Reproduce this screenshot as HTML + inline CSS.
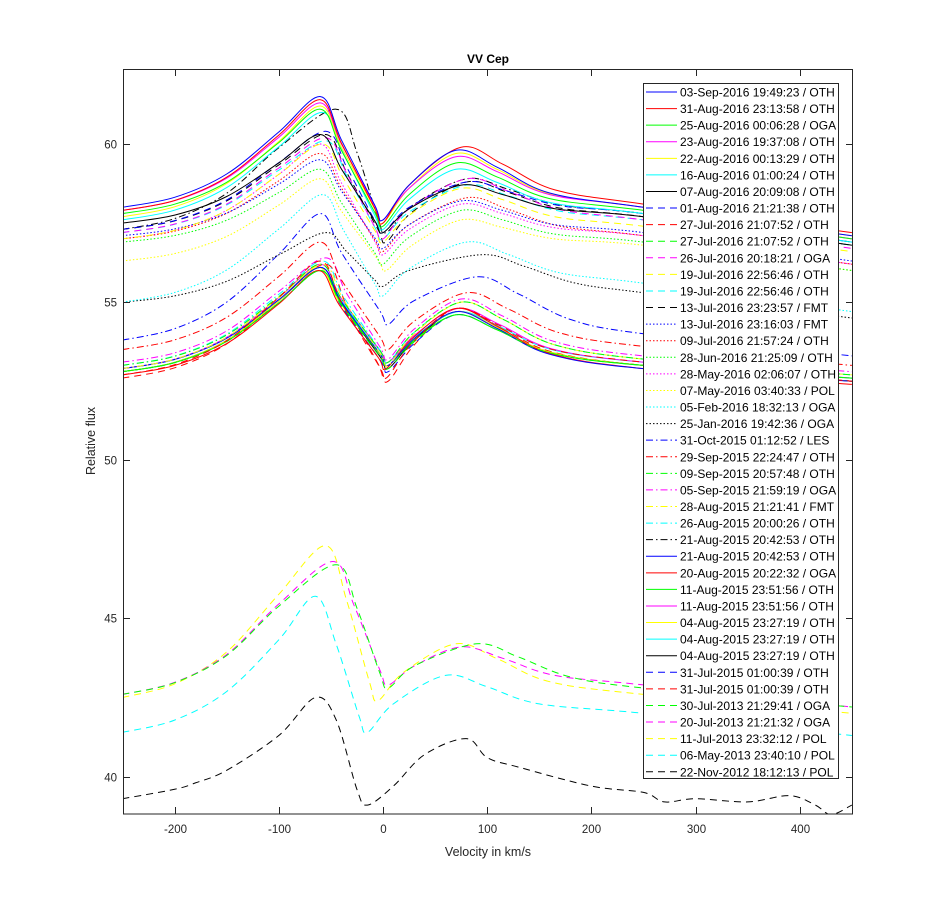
<!DOCTYPE html>
<html><head><meta charset="utf-8"><style>
body{margin:0;background:#fff;}
svg text{font-family:"Liberation Sans",Arial,sans-serif;}
</style></head><body>
<svg id="s" width="944" height="916" xmlns="http://www.w3.org/2000/svg">
<rect width="944" height="916" fill="#fff"/>
<defs><clipPath id="c"><rect x="123" y="69" width="730" height="745"/></clipPath></defs>
<rect x="123" y="69" width="730" height="745" fill="#fff"/>
<g id="curves" clip-path="url(#c)" fill="none" stroke-width="1"></g>
<rect x="123.5" y="69.5" width="729" height="744.5" fill="none" stroke="#262626" stroke-width="1"/>
<g id="ticks" stroke="#262626" stroke-width="1"></g>
<g id="labels" font-size="11.5" fill="#262626"></g>
<text x="488" y="63" font-size="12" font-weight="bold" text-anchor="middle" fill="#000">VV Cep</text>
<text x="488" y="856" font-size="12.5" text-anchor="middle" fill="#262626">Velocity in km/s</text>
<text x="0" y="0" font-size="12.5" text-anchor="middle" fill="#262626" transform="translate(95,441) rotate(-90)">Relative flux</text>
<rect x="643.5" y="83.5" width="195" height="695" fill="#fff" stroke="#262626" stroke-width="1"/>
<g id="legend" font-size="12" fill="#000"></g>
</svg>
<script>
const X=v=>383+v*1.042, Y=y=>144+(60-y)*31.63;
const cols=['#0000ff','#ff0000','#00ff00','#ff00ff','#ffff00','#00ffff','#000000'];
const dash={s:'',d:'7,5',o:'1.5,2',dd:'7,3,1.5,3'};
const styles=['s','d','o','dd','s','d'];
const names=["03-Sep-2016 19:49:23 / OTH","31-Aug-2016 23:13:58 / OTH","25-Aug-2016 00:06:28 / OGA","23-Aug-2016 19:37:08 / OTH","22-Aug-2016 00:13:29 / OTH","16-Aug-2016 01:00:24 / OTH","07-Aug-2016 20:09:08 / OTH","01-Aug-2016 21:21:38 / OTH","27-Jul-2016 21:07:52 / OTH","27-Jul-2016 21:07:52 / OTH","26-Jul-2016 20:18:21 / OGA","19-Jul-2016 22:56:46 / OTH","19-Jul-2016 22:56:46 / OTH","13-Jul-2016 23:23:57 / FMT","13-Jul-2016 23:16:03 / FMT","09-Jul-2016 21:57:24 / OTH","28-Jun-2016 21:25:09 / OTH","28-May-2016 02:06:07 / OTH","07-May-2016 03:40:33 / POL","05-Feb-2016 18:32:13 / OGA","25-Jan-2016 19:42:36 / OGA","31-Oct-2015 01:12:52 / LES","29-Sep-2015 22:24:47 / OTH","09-Sep-2015 20:57:48 / OTH","05-Sep-2015 21:59:19 / OGA","28-Aug-2015 21:21:41 / FMT","26-Aug-2015 20:00:26 / OTH","21-Aug-2015 20:42:53 / OTH","21-Aug-2015 20:42:53 / OTH","20-Aug-2015 20:22:32 / OGA","11-Aug-2015 23:51:56 / OTH","11-Aug-2015 23:51:56 / OTH","04-Aug-2015 23:27:19 / OTH","04-Aug-2015 23:27:19 / OTH","04-Aug-2015 23:27:19 / OTH","31-Jul-2015 01:00:39 / OTH","31-Jul-2015 01:00:39 / OTH","30-Jul-2013 21:29:41 / OGA","20-Jul-2013 21:21:32 / OGA","11-Jul-2013 23:32:12 / POL","06-May-2013 23:40:10 / POL","22-Nov-2012 18:12:13 / POL"];
const p=[
[58,61.5,-60,57.6,0,59.8,70,58,57.1],[57.9,61.4,-60,57.5,0,59.9,75,58.1,57.2],[57.8,61.1,-60,57.4,0,59.4,70,57.9,57],[57.9,61.3,-60,57.6,0,59.6,70,58,57],[57.7,61.2,-60,57.5,0,59.7,70,58,57.1],[57.6,61,-58,57.3,0,59.2,70,57.8,56.9],[57.5,60.3,-60,57.2,0,58.7,75,57.7,56.8],
[57.3,60.4,-55,57.2,0,58.8,80,57.8,56.9],[52.7,56.3,-60,52.6,3,54.8,70,53.1,52.5],[52.8,56,-60,52.9,5,54.6,70,53,52.6],[57.2,60.2,-55,57,0,58.9,80,57.6,56.7],[57,60,-58,56.9,0,58.6,75,57.4,56.6],[57.2,60.1,-55,57,0,58.7,80,57.6,56.8],[57.3,60.3,-55,56.9,3,58.8,80,57.7,56.8],
[57.1,59.5,-60,56.7,0,58.2,75,57.2,56.3],[57,59.7,-60,56.6,0,58.3,80,57.1,56.2],[56.9,59.2,-60,56.2,0,57.9,75,56.9,56],[57,60,-60,56.5,0,58.1,75,57.1,56.2],[56.3,58.9,-60,56,3,57.6,75,56.8,56],[55,58.4,-58,55.2,0,56.9,80,55.6,54.7],[55,57.2,-55,55.5,0,56.5,95,55.3,54.5],
[53.8,57.8,-60,54.3,5,55.8,90,54,53.3],[53.5,56.9,-60,53.5,5,55.3,80,53.6,53],[53,56.2,-60,53.1,5,55,75,53.2,52.7],[53.1,56.4,-55,53.2,5,55.1,75,53.3,52.8],[52.9,56.2,-58,53,5,55,75,53.2,52.7],[53,56.3,-58,53.1,5,55,75,53.2,52.7],[57.3,61.1,-45,57.2,3,58.9,80,57.8,56.9],
[52.9,56.1,-60,53,5,54.7,70,52.9,52.5],[52.7,56,-62,52.9,3,54.8,70,52.9,52.4],[52.8,56,-60,53,5,54.6,70,53,52.6],[52.9,56.2,-60,53.1,5,54.8,72,53.1,52.6],[52.8,56.1,-62,53,5,54.7,70,53,52.5],[52.9,56.1,-60,53.1,5,54.7,72,53.1,52.6],[52.8,56.1,-60,52.9,5,54.7,70,53,52.5],
[52.8,56,-60,52.8,5,54.6,70,53,52.5],[52.6,56.2,-55,52.5,5,54.8,70,53,52.5],[42.6,46.7,-45,42.8,5,44.2,90,42.8,42.2],[42.6,46.8,-48,42.9,5,44.1,75,42.9,42.2],[42.5,47.3,-55,42.4,-5,44.2,70,42.6,42],[41.4,45.7,-65,41.4,-15,43.2,60,42,41.3],[39.3,42.5,-65,39.1,-15,41.2,80,39.5,39.1]
];
function pts(a){const[b,P,vp,M,vm,Q,vq,R,E]=a;let r=[[-250,b],[-200,b+.09*(P-b)],[-150,b+.3*(P-b)],[-100,b+.68*(P-b)],[vp,P],[vp+20,P-.35*(P-M)],[vm-8,M+.12*(P-M)],[vm,M],[vm+25,M+.5*(Q-M)],[vq,Q],[vq+40,Q-.3*(Q-R)],[vq+90,Q-.75*(Q-R)],[250,R],[450,E]];return r.filter((q,i)=>i==0||q[0]>r[i-1][0]);}
function path(P){P=P.map(q=>[X(q[0]),Y(q[1])]);let d='M'+P[0][0].toFixed(1)+','+P[0][1].toFixed(1);for(let i=0;i<P.length-1;i++){const p0=P[Math.max(0,i-1)],p1=P[i],p2=P[i+1],p3=P[Math.min(P.length-1,i+2)];const c1=[p1[0]+(p2[0]-p0[0])/6,p1[1]+(p2[1]-p0[1])/6],c2=[p2[0]-(p3[0]-p1[0])/6,p2[1]-(p3[1]-p1[1])/6];d+=`C${c1[0].toFixed(1)},${c1[1].toFixed(1)} ${c2[0].toFixed(1)},${c2[1].toFixed(1)} ${p2[0].toFixed(1)},${p2[1].toFixed(1)}`;}return d;}
const NS='http://www.w3.org/2000/svg';
function el(t,at,par){const e=document.createElementNS(NS,t);for(const k in at)e.setAttribute(k,at[k]);document.getElementById(par).appendChild(e);return e;}
for(let i=p.length-1;i>=0;i--){let P=pts(p[i]);if(i==41){P=[[-250,39.3],[-200,39.6],[-180,39.8],[-150,40.2],[-100,41.3],[-65,42.5],[-45,41.8],[-25,39.6],[-15,39.1],[10,39.7],[40,40.7],[80,41.2],[100,40.6],[130,40.3],[200,39.7],[250,39.5],[270,39.2],[300,39.3],[350,39.2],[390,39.4],[415,39.1],[430,38.8],[450,39.1]];}
el('path',{d:path(P),stroke:cols[i%7],'stroke-dasharray':dash[styles[Math.floor(i/7)]]},'curves');}
for(let v=-200;v<=400;v+=100){const x=Math.round(X(v))+0.5;el('line',{x1:x,y1:814,x2:x,y2:807},'ticks');el('line',{x1:x,y1:69,x2:x,y2:76},'ticks');const t=el('text',{x:x,y:833,'text-anchor':'middle'},'labels');t.textContent=v;}
for(let y=40;y<=60;y+=5){const yy=Math.round(Y(y))+0.5;el('line',{x1:123,y1:yy,x2:130,y2:yy},'ticks');el('line',{x1:853,y1:yy,x2:846,y2:yy},'ticks');const t=el('text',{x:117,y:yy+4,'text-anchor':'end'},'labels');t.textContent=y;}
names.forEach((n,i)=>{const y=92+i*16.58;el('line',{x1:646,y1:y,x2:677,y2:y,stroke:cols[i%7],'stroke-dasharray':dash[styles[Math.floor(i/7)]]},'legend');const t=el('text',{x:680,y:y+4.5},'legend');t.textContent=n;});
</script>
</body></html>
